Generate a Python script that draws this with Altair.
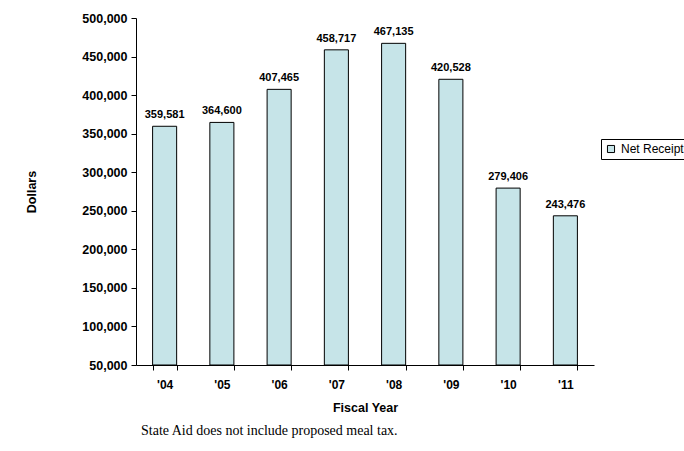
import altair as alt
import pandas as pd

years = ["'04", "'05", "'06", "'07", "'08", "'09", "'10", "'11"]
receipts = [359581, 364600, 407465, 458717, 467135, 420528, 279406, 243476]
series_name = "Net Receipts"
y_ticks = [50000, 100000, 150000, 200000, 250000, 300000, 350000, 400000, 450000, 500000]

df = pd.DataFrame({"year": years, "receipts": receipts, "series": series_name})

font = "Liberation Sans"

base = alt.Chart(df).encode(
    x=alt.X(
        "year:N",
        sort=years,
        title="Fiscal Year",
        scale=alt.Scale(paddingInner=0.58, paddingOuter=0.29),
        axis=alt.Axis(
            labelAngle=0, labelFont=font, labelFontSize=12, labelFontWeight="bold",
            labelColor="black", labelPadding=9,
            titleFont=font, titleFontSize=12.5, titleFontWeight="bold", titleColor="black",
            titlePadding=11, tickBand="extent", tickColor="black", domainColor="black",
            tickSize=5, grid=False,
        ),
    ),
)

bars = base.mark_bar(stroke="black", strokeWidth=1).encode(
    y=alt.Y(
        "receipts:Q",
        title="Dollars",
        scale=alt.Scale(domain=[50000, 500000], zero=False, nice=False),
        axis=alt.Axis(
            values=y_ticks, tickCount=len(y_ticks) + 2, format=",d", labelFont=font,
            labelFontSize=12.5, labelFontWeight="bold", labelColor="black", labelPadding=4,
            labelOverlap=False,
            titleFont=font, titleFontSize=12.5, titleFontWeight="bold", titleColor="black",
            titlePadding=43, tickColor="black", domainColor="black", tickSize=5, grid=False,
        ),
    ),
    y2=alt.datum(50000),
    color=alt.Color(
        "series:N",
        scale=alt.Scale(domain=[series_name], range=["#C6E4E8"]),
        legend=alt.Legend(
            title=None, orient="none", legendX=465, legendY=121,
            labelFont=font, labelFontSize=12, labelColor="black",
            symbolType="square", symbolStrokeColor="black", symbolStrokeWidth=1,
            symbolSize=50, strokeColor="black", padding=4,
        ),
    ),
)

labels = base.mark_text(
    dy=-6, font=font, fontSize=11, fontWeight="bold", color="black", baseline="bottom"
).encode(
    y=alt.Y("receipts:Q"),
    text=alt.Text("receipts:Q", format=","),
)

chart = (
    alt.layer(bars, labels)
    .properties(
        width=458,
        height=347,
        autosize=alt.AutoSizeParams(type="none"),
        padding={"left": 136, "top": 18, "right": 90, "bottom": 86},
        title=alt.TitleParams(
            "State Aid does not include proposed meal tax.",
            orient="bottom", anchor="start", frame="group", font="Liberation Serif",
            fontSize=14, fontWeight="normal", color="black", offset=10, dx=5,
        ),
    )
    .configure_view(stroke=None)
)

chart.save("out.html", embed_options={"renderer": "svg", "actions": False})
